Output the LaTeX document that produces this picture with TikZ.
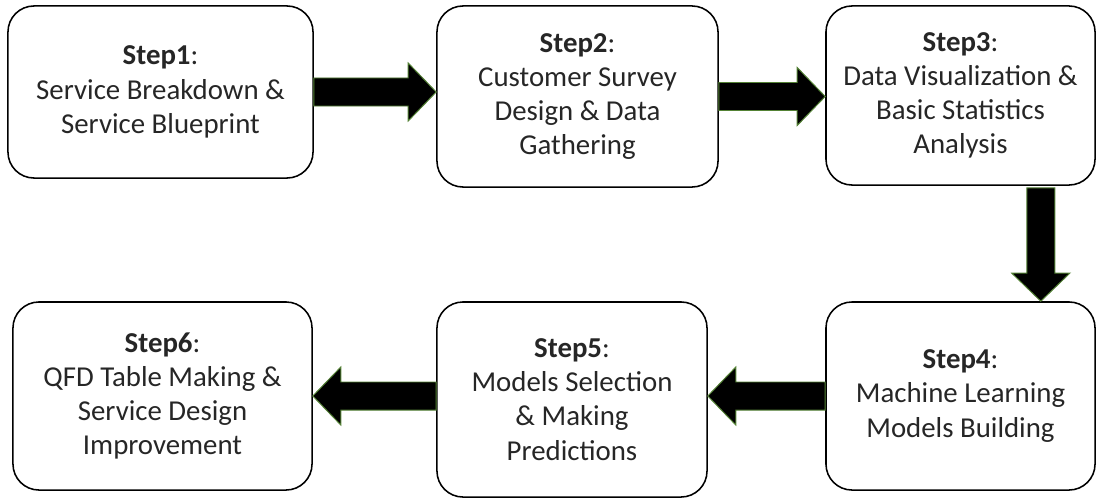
\documentclass[tikz,border=0pt]{standalone}
\usepackage{fontspec}
\setmainfont{Carlito}
\usepackage{xcolor}
\usetikzlibrary{calc}
\definecolor{arrowgreen}{RGB}{84,130,53}
\definecolor{steptext}{RGB}{38,38,38}

% block arrow from #1 to #2
\newcommand{\steparrow}[2]{%
  \coordinate (hb) at ($(#2)!0.7cm!(#1)$);
  \filldraw[blockarrow] ($(#1)!0.35cm!90:(#2)$) -- ($(hb)!0.35cm!-90:(#1)$)
    -- ($(hb)!0.725cm!-90:(#1)$) -- (#2) -- ($(hb)!0.725cm!90:(#1)$)
    -- ($(hb)!0.35cm!90:(#1)$) -- ($(#1)!0.35cm!-90:(#2)$) -- cycle;}

\begin{document}
\begin{tikzpicture}[x=0.025cm, y=-0.025cm,
    stepbox/.style={draw, line width=1.1pt, rounded corners=0.65cm, align=center,
      inner sep=0pt, text=steptext, font=\fontsize{20.5}{24.3}\selectfont},
    blockarrow/.style={fill=black, draw=arrowgreen, line width=0.7pt, line join=miter}]
          \useasboundingbox (0,0) rectangle (1097,499);

          \node[stepbox, minimum width=7.625cm, minimum height=4.3cm] (S1) at (160.5, 92)
            {\textbf{Step1}:\\Service Breakdown \&\\Service Blueprint};
          \node[stepbox, minimum width=7.025cm, minimum height=4.525cm] (S2) at (577.5, 96.5)
            {\textbf{Step2}:\\Customer Survey\\Design \& Data\\Gathering};
          \node[stepbox, minimum width=6.725cm, minimum height=4.475cm] (S3) at (960.5, 95.5)
            {\textbf{Step3}:\\Data Visualization \&\\Basic Statistics\\Analysis};
          \node[stepbox, minimum width=6.725cm, minimum height=4.7cm] (S4) at (960.5, 396)
            {\textbf{Step4}:\\Machine Learning\\Models Building};
          \node[stepbox, minimum width=6.75cm, minimum height=4.875cm] (S5) at (572, 399.5)
            {\textbf{Step5}:\\Models Selection\\\& Making\\Predictions};
          \node[stepbox, minimum width=7.475cm, minimum height=4.7cm] (S6) at (162.5, 396)
            {\textbf{Step6}:\\QFD Table Making \&\\Service Design\\Improvement};

          \coordinate (A3) at ($(S3.south east)+(-55,2)$);
          \steparrow{S1.east}{S2.west |- S1.east}
          \steparrow{S2.east}{S3.west |- S2.east}
          \steparrow{A3}{S4.north -| A3}
          \steparrow{S4.west}{S5.east |- S4.west}
          \steparrow{S5.west |- S6.east}{S6.east}
        \end{tikzpicture}
\end{document}
